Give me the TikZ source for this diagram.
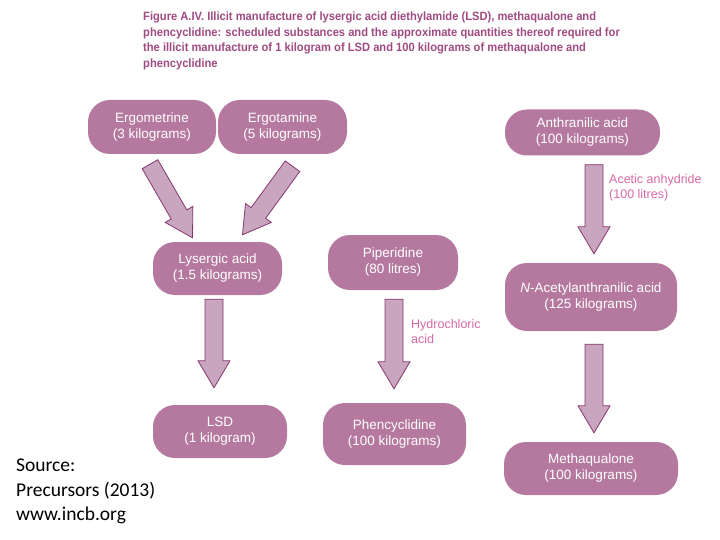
\documentclass[tikz,border=0pt]{standalone}
\usepackage{fontspec}
\setmainfont{Liberation Sans}
\newfontfamily\titlefont[FakeStretch=0.93]{Liberation Sans}
\newfontfamily\srcfont{Carlito}
\usetikzlibrary{calc}
\definecolor{boxfill}{RGB}{181,121,160}
\definecolor{arrfill}{RGB}{201,166,191}
\definecolor{arrline}{RGB}{135,55,110}
\definecolor{titlecol}{RGB}{160,75,130}
\definecolor{notecol}{RGB}{215,105,165}
\tikzset{
    box/.style={fill=boxfill, text=white, rounded corners=22pt, align=center, inner sep=0pt, font=\fontsize{13.5}{16}\selectfont}, % substance box
    fatarr/.style={fill=arrfill, draw=arrline, line width=0.8pt, line join=miter}, % broad arrow
    note/.style={text=notecol, align=left, anchor=north west, inner sep=0pt, font=\fontsize{12.5}{15.5}\selectfont} % reagent text
}
% broad arrow from #1 to #2: shaft half width 9, head half width 16, head length 27
\newcommand\fatarrow[2]{%
    \coordinate (fa) at ($(#2)!27pt!(#1)$);
    \draw[fatarr] ($(#1)!9pt!90:(#2)$) -- ($(fa)!9pt!90:(#2)$) -- ($(fa)!16pt!90:(#2)$) -- (#2)
        -- ($(fa)!16pt!-90:(#2)$) -- ($(fa)!9pt!-90:(#2)$) -- ($(#1)!9pt!-90:(#2)$) -- cycle;}

\begin{document}
\begin{tikzpicture}[x=1pt, y=-1pt]
    \useasboundingbox[fill=white] (0,0) rectangle (720,540);

    \node[titlecol, anchor=north west, align=left, inner sep=0pt, font=\titlefont\bfseries\fontsize{12}{15.5}\selectfont] (title) at (143,12) {%
        Figure A.IV. Illicit manufacture of lysergic acid diethylamide (LSD), methaqualone and\\
        phencyclidine: scheduled substances and the approximate quantities thereof required for\\
        the illicit manufacture of 1 kilogram of LSD and 100 kilograms of methaqualone and\\
        phencyclidine};

    % substances
    \node[box, minimum width=128, minimum height=54] (ergm) at (152,127) {Ergometrine\\(3 kilograms)};
    \node[box, minimum width=129, minimum height=54] (ergt) at (282.5,127) {Ergotamine\\(5 kilograms)};
    \node[box, minimum width=155, minimum height=46] (anth) at (582.5,132.5) {Anthranilic acid\\(100 kilograms)};
    \node[box, minimum width=129, minimum height=53] (lys) at (217.5,268.5) {Lysergic acid\\(1.5 kilograms)};
    \node[box, minimum width=130, minimum height=55] (pip) at (393,262.5) {Piperidine\\(80 litres)};
    \node[box, minimum width=172, minimum height=68] (acet) at (591,297) {\textit{N}-Acetylanthranilic acid\\(125 kilograms)};
    \node[box, minimum width=134, minimum height=53] (lsd) at (220,431.5) {LSD\\(1 kilogram)};
    \node[box, minimum width=143, minimum height=62] (phen) at (394.5,434) {Phencyclidine\\(100 kilograms)};
    \node[box, minimum width=174, minimum height=53] (meth) at (591,468.5) {Methaqualone\\(100 kilograms)};

    % arrow ends
    \coordinate (ergm-t) at ($(ergm.south)+(-2,10)$);
    \coordinate (ergm-h) at ($(lys.north)+(-25,-4)$);
    \coordinate (ergt-t) at ($(ergt.south)+(10,12)$);
    \coordinate (ergt-h) at ($(lys.north)+(25,-7)$);
    \coordinate (lys-t) at ($(lys.south)+(-3.5,4)$);
    \coordinate (lys-h) at ($(lsd.north)+(-6,-17)$);
    \coordinate (pip-t) at ($(pip.south)+(1,9)$);
    \coordinate (pip-h) at ($(phen.north)+(-0.5,-14)$);
    \coordinate (anth-t) at ($(anth.south)+(11.5,9)$);
    \coordinate (anth-h) at ($(acet.north)+(3,-9)$);
    \coordinate (acet-t) at ($(acet.south)+(3,13)$);
    \coordinate (acet-h) at ($(meth.north)+(3,-9)$);

    \foreach \a in {ergm, ergt, lys, pip, anth, acet} {\fatarrow{\a-t}{\a-h}}

    % reagents
    \node[note] (acan) at (609,174) {Acetic anhydride\\(100 litres)};
    \node[note] (hcl) at (411,319) {Hydrochloric\\acid};

    \node[anchor=north west, align=left, inner sep=0pt, font=\srcfont\fontsize{19.5}{24.5}\selectfont] (src) at (16,459) {Source:\\Precursors (2013)\\www.incb.org};
\end{tikzpicture}
\end{document}
